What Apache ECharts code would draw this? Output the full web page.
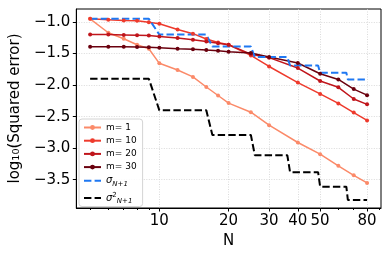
<!DOCTYPE html>
<html><head><meta charset="utf-8">
<script src="https://cdn.jsdelivr.net/npm/echarts@6/dist/echarts.min.js"></script>
<style>html,body{margin:0;padding:0;background:#fff}#c{width:390px;height:260px}</style>
</head><body><div id="c"></div>
<script>
// Data
const N = [5,6,7,8,9,10,12,14,16,18,20,25,30,40,50,60,70,80];
const m1  = [-0.95,-1.17,-1.265,-1.36,-1.425,-1.655,-1.76,-1.87,-2.03,-2.165,-2.285,-2.43,-2.635,-2.91,-3.095,-3.28,-3.43,-3.55];
const m10 = [-0.948,-0.963,-0.975,-0.98,-1.005,-1.027,-1.12,-1.185,-1.27,-1.325,-1.36,-1.53,-1.705,-1.96,-2.14,-2.29,-2.435,-2.56];
const m20 = [-1.2,-1.2,-1.205,-1.21,-1.215,-1.23,-1.255,-1.28,-1.31,-1.335,-1.36,-1.51,-1.565,-1.73,-1.935,-2.035,-2.22,-2.305];
const m30 = [-1.392,-1.392,-1.393,-1.397,-1.40,-1.408,-1.423,-1.43,-1.444,-1.455,-1.47,-1.49,-1.555,-1.65,-1.82,-1.91,-2.063,-2.16];
// step curves: corner points (N, value)
const sigN   = [5,9,10,16,17,25,26,36,37,49,50,65,66,80];
const sigV   = [-0.95,-0.95,-1.2,-1.2,-1.39,-1.39,-1.555,-1.555,-1.69,-1.69,-1.805,-1.805,-1.91,-1.91];
const sig2V  = [-1.9,-1.9,-2.4,-2.4,-2.79,-2.79,-3.11,-3.11,-3.38,-3.38,-3.61,-3.61,-3.82,-3.82];
const xTickLabels = [10,20,30,40,50,80];
const xMinorTicks = [5,6,7,8,9,60,70,90];
const yTicks = [-3.5,-3.0,-2.5,-2.0,-1.5,-1.0];
const seriesNames = ['m= 1','m= 10','m= 20','m= 30','sig','sig2'];
const colors = ['#fb8a69','#ee3a2c','#c0151b','#6a000e','#1f78f2','#000000'];

const pair = (xs, ys) => xs.map((x,i)=>[x, ys[i]]);
const FONT = 'DejaVu Sans';
const chart = echarts.init(document.getElementById('c'), null, {renderer:'canvas'});
const lineSeries = [m1,m10,m20,m30].map((arr,i)=>({
  name: seriesNames[i], type:'line', data: pair(N, arr),
  symbol:'circle', symbolSize:4, showSymbol:true,
  lineStyle:{color:colors[i], width:1.5}, itemStyle:{color:colors[i]},
  emphasis:{disabled:true}, animation:false
}));
const dashSeries = [sigV, sig2V].map((arr,i)=>({
  name: seriesNames[4+i], type:'line', data: pair(sigN, arr), symbol:'none',
  lineStyle:{color:colors[4+i], width:2, type:[7.4,3.2]}, itemStyle:{color:colors[4+i]},
  emphasis:{disabled:true}, animation:false
}));
chart.setOption({
  animation:false,
  backgroundColor:'#fff',
  textStyle:{fontFamily:FONT},
  grid:{left:75, right:9, top:9, bottom:52, show:true, borderColor:'#000', borderWidth:1, backgroundColor:'transparent'},
  xAxis:[{
    type:'log', logBase:10, min:4.355, max:91.97, position:'bottom',
    name:'N', nameLocation:'middle', nameGap:24,
    nameTextStyle:{fontFamily:FONT, fontSize:15, color:'#000'},
    axisLine:{show:true, lineStyle:{color:'#000', width:1}},
    axisTick:{show:true, customValues:xTickLabels, length:3.5, lineStyle:{color:'#000'}},
    axisLabel:{customValues:xTickLabels, fontFamily:FONT, fontSize:15, color:'#000', margin:6, formatter:v=>String(Math.round(v))},
    splitLine:{show:true, lineStyle:{color:'#d0d0d0', type:[1,1.5], width:0.8}}
  },{
    type:'log', logBase:10, min:4.355, max:91.97, position:'bottom',
    axisLine:{show:false},
    axisTick:{show:true, customValues:xMinorTicks, length:2, lineStyle:{color:'#000'}},
    axisLabel:{show:false}, splitLine:{show:false}
  }],
  yAxis:{
    type:'value', min:-3.948, max:-0.794,
    name:'log\u2081\u2080(Squared error)', nameLocation:'middle', nameGap:52, nameRotate:90,
    nameTextStyle:{fontFamily:FONT, fontSize:15, color:'#000'},
    axisLine:{show:true, lineStyle:{color:'#000'}},
    axisTick:{show:true, customValues:yTicks, length:3.5, lineStyle:{color:'#000'}},
    axisLabel:{customValues:yTicks, fontFamily:FONT, fontSize:15, color:'#000', margin:6,
      formatter:v=>(v<0?'\u2212':'')+Math.abs(v).toFixed(1)},
    splitLine:{show:true, lineStyle:{color:'#d0d0d0', type:[1,1.5], width:0.8}}
  },
  legend:{
    orient:'vertical', left:79, top:119,
    data: seriesNames.map((n,i)=> i<4 ? {name:n} : {name:n, itemStyle:{opacity:0}}),
    itemWidth:17, itemHeight:6, itemGap:4.2,
    padding:[4,6,2,4],
    backgroundColor:'rgba(255,255,255,0.85)', borderColor:'#d4d4d4', borderWidth:1, borderRadius:3,
    textStyle:{fontFamily:FONT, fontSize:9, color:'#000',
      rich:{
        i:{fontFamily:FONT, fontSize:10, fontStyle:'italic', color:'#000', lineHeight:13, verticalAlign:'middle'},
        sub:{fontFamily:FONT, fontSize:7, fontStyle:'italic', color:'#000', lineHeight:13, verticalAlign:'bottom'},
        sup:{fontFamily:FONT, fontSize:7, color:'#000', lineHeight:13, verticalAlign:'top'}
      }},
    formatter:function(name){
      if(name==='sig') return '{i|σ}{sub|N+1}';
      if(name==='sig2') return '{i|σ}{sup|2}{sub|N+1}';
      return name;
    }
  },
  series: lineSeries.concat(dashSeries)
});
</script></body></html>
